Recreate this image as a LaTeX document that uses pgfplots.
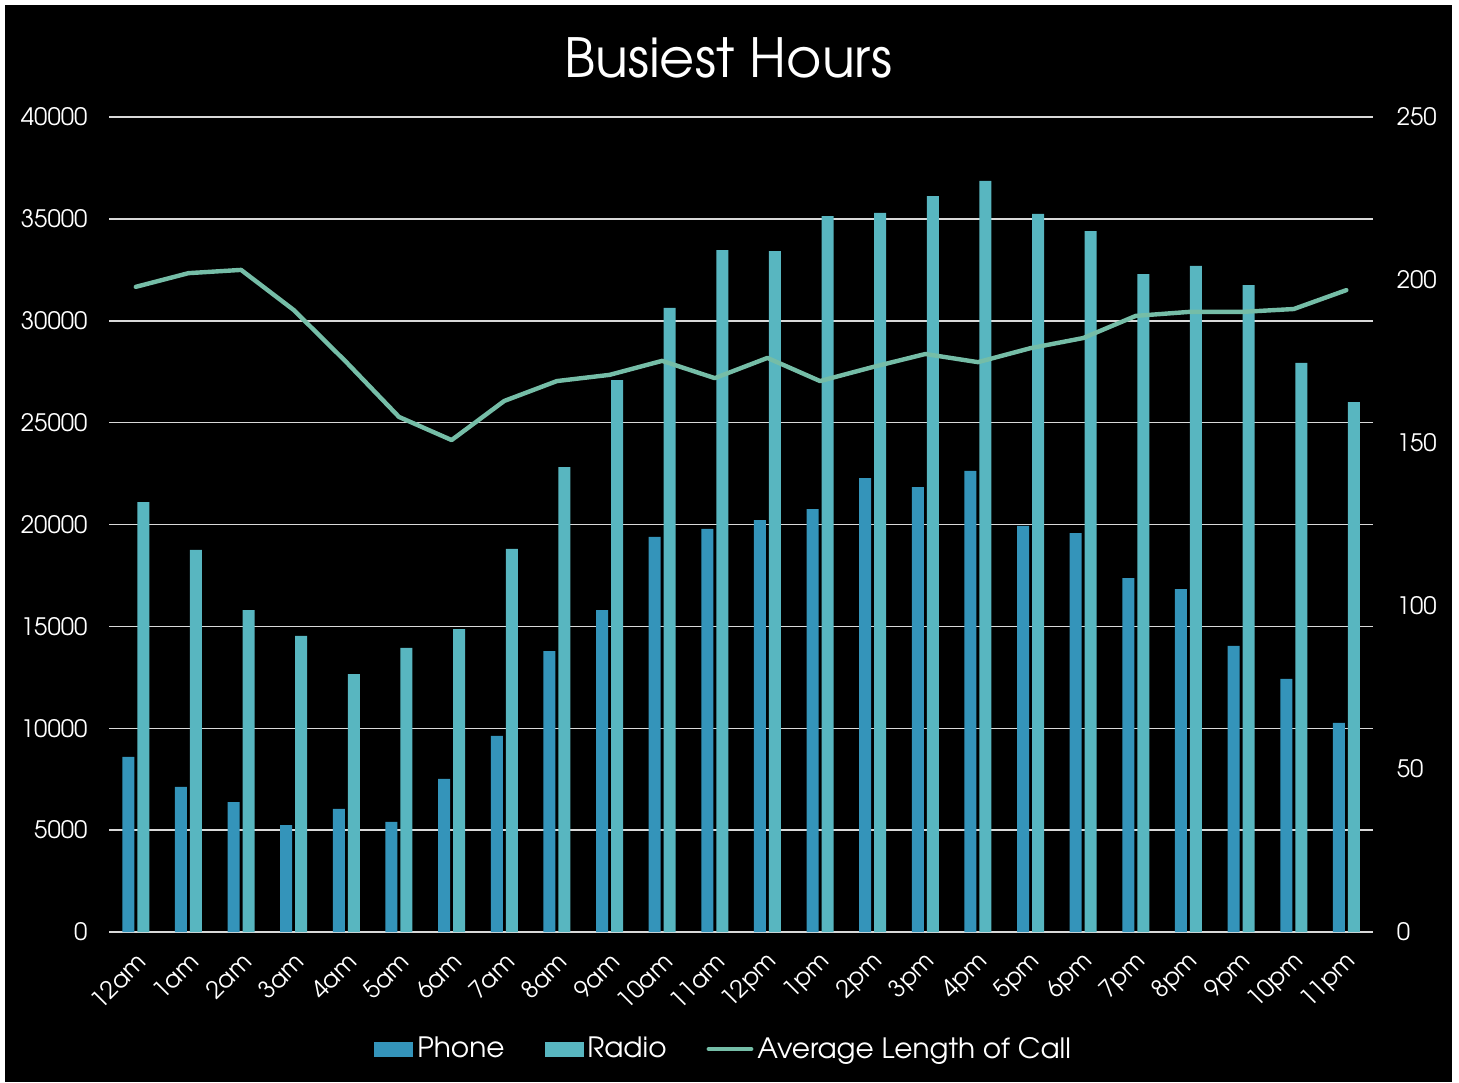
\documentclass[border=0pt]{standalone}
\usepackage{pgfplots}
\usepackage{pgfplotstable}
\pgfplotsset{compat=1.18}
\usepackage{fontspec}
\setmainfont{TeX Gyre Adventor}
\definecolor{phone}{HTML}{3494BA}
\definecolor{radio}{HTML}{58B6C0}
\definecolor{avgc}{HTML}{75BDA7}
\definecolor{gridc}{HTML}{D9D9D9}
\pgfplotstableread{
x phone radio avg
0 8600 21100 197.9
1 7120 18750 202.1
2 6380 15800 203.1
3 5250 14530 190.8
4 6040 12660 174.8
5 5400 13940 158.0
6 7510 14870 150.9
7 9620 18800 162.9
8 13790 22820 169.0
9 15800 27090 170.9
10 19390 30630 175.2
11 19780 33470 169.9
12 20220 33420 176.1
13 20760 35140 169.0
14 22280 35290 173.3
15 21840 36120 177.3
16 22630 36860 174.8
17 19930 35240 179.1
18 19580 34400 182.2
19 17370 32290 189.0
20 16830 32690 190.2
21 14040 31750 190.2
22 12420 27930 191.1
23 10260 26010 196.9
}\data
\begin{document}
\begin{tikzpicture}
\useasboundingbox (-54.75pt,-75pt) rectangle (674.75pt,466pt);
\fill[white] (-54.75pt,-75pt) rectangle (674.75pt,466pt);
\fill[black] (-52.25pt,-75pt) rectangle (671.25pt,463.5pt);
\pgfplotsset{
  common/.style={
    at={(0pt,0pt)}, anchor=south west,
    scale only axis, width=631.6pt, height=407.5pt,
    xmin=-0.5, xmax=23.5,
    axis line style={draw=none},
    major tick style={draw=none},
    ticklabel style={text=white, font=\fontsize{12}{14}\selectfont},
    /pgf/number format/assume math mode=true,
    /pgf/number format/1000 sep={},
    scaled y ticks=false,
  }
}
\begin{axis}[common,
  ymin=0, ymax=40000, ytick={0,5000,...,40000},
  ymajorgrids, grid style={gridc, line width=0.75pt},
  yticklabel style={xshift=-7.5pt},
  xtick={0,...,23},
  xticklabels={12am,1am,2am,3am,4am,5am,6am,7am,8am,9am,10am,11am,12pm,1pm,2pm,3pm,4pm,5pm,6pm,7pm,8pm,9pm,10pm,11pm},
  xticklabel style={rotate=45, anchor=east, yshift=-8pt, xshift=-0.5pt},
  ybar=1.5pt, bar width=6pt,
]
\addplot[fill=phone, draw=none] table[x=x, y=phone] {\data};
\addplot[fill=radio, draw=none] table[x=x, y=radio] {\data};
\end{axis}
\begin{axis}[common,
  ymin=0, ymax=250, ytick={0,50,...,250},
  axis y line*=right, axis x line=none,
  yticklabel style={xshift=8.5pt},
  legend columns=3,
  legend style={at={(0.487,-0.1436)}, anchor=center, draw=none, fill=none,
    text=white, font=\fontsize{14}{16}\selectfont,
    /tikz/every even column/.append style={column sep=18pt}},
]
\addlegendimage{legend image code/.code={\fill[phone] (0pt,-3.5pt) rectangle (19pt,3.5pt);}}
\addlegendentry{Phone}
\addlegendimage{legend image code/.code={\fill[radio] (0pt,-3.5pt) rectangle (19pt,3.5pt);}}
\addlegendentry{Radio}
\addplot[avgc, line width=2.2pt, line join=round, line cap=round, legend image code/.code={\draw[avgc, line width=2.4pt, line cap=round] (0pt,0pt) -- (21pt,0pt);}] table[x=x, y=avg] {\data};
\addlegendentry{Average Length of Call}
\end{axis}
\node[text=white, font=\fontsize{27}{32}\selectfont] at (309.5pt,437pt) {Busiest Hours};
\end{tikzpicture}
\end{document}
